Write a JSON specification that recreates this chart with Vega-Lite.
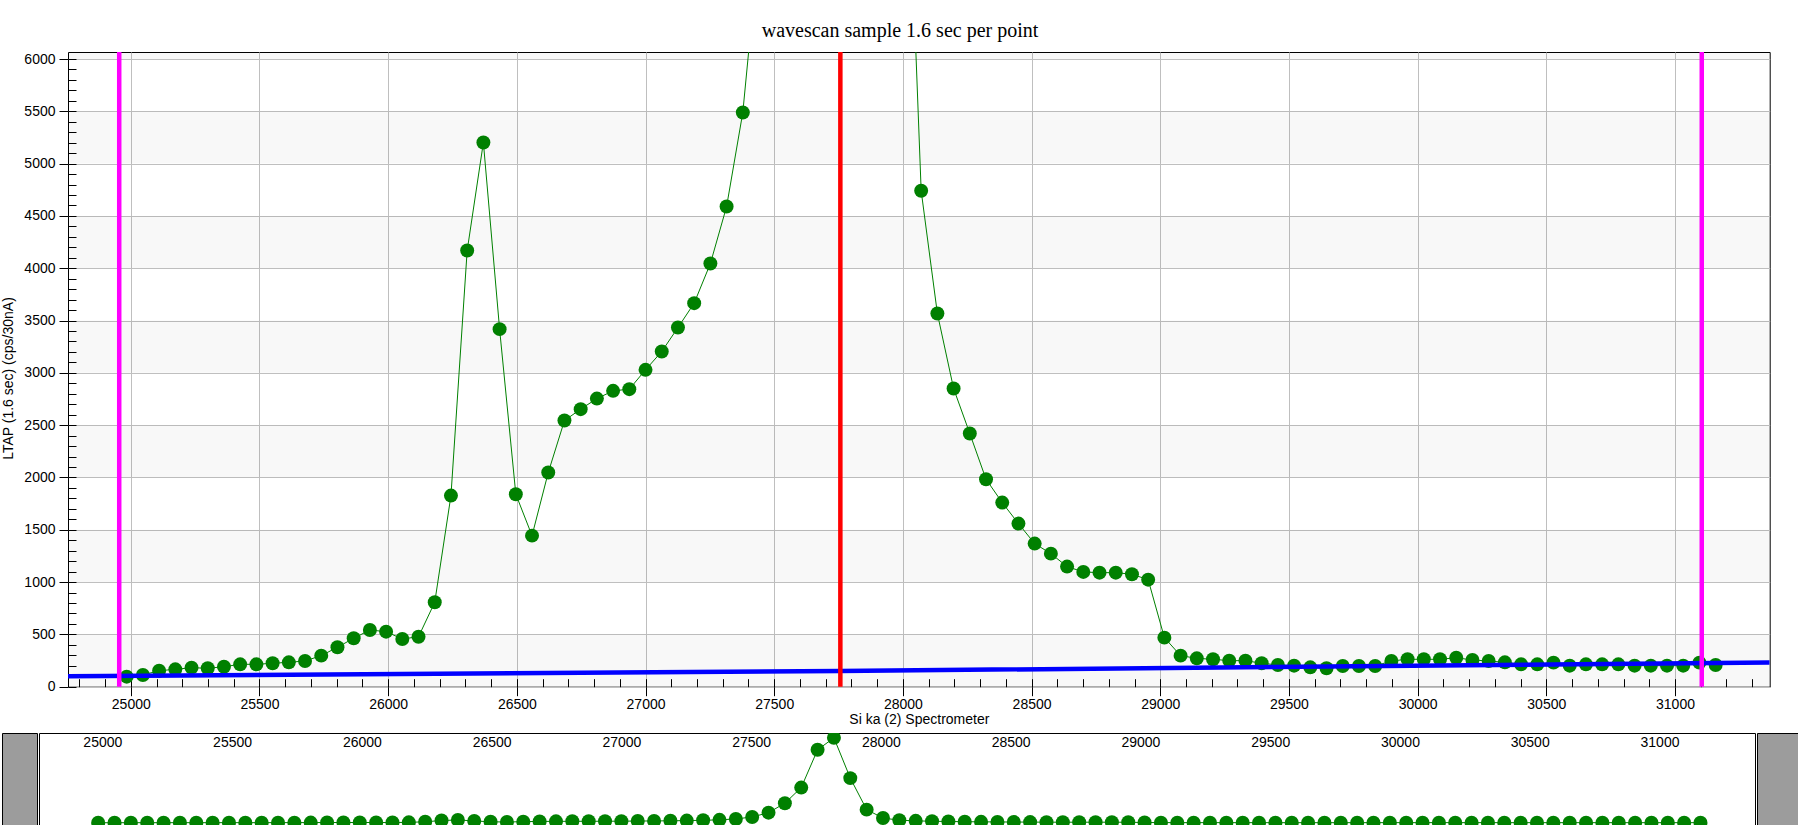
{
  "$schema": "https://vega.github.io/schema/vega-lite/v6.json",
  "padding": {"top": 21, "left": 0, "right": 0, "bottom": 0},
  "title": {"text": "wavescan sample 1.6 sec per point", "font": "Liberation Serif", "fontSize": 20, "fontWeight": "normal", "color": "black", "anchor": "middle", "offset": 8},
  "spacing": 5,
  "datasets": {
    "scan": [
      {"pos": 24984, "cps": 96}, {"pos": 25047, "cps": 112}, {"pos": 25110, "cps": 153}, {"pos": 25173, "cps": 166},
      {"pos": 25236, "cps": 182}, {"pos": 25299, "cps": 176}, {"pos": 25362, "cps": 191}, {"pos": 25425, "cps": 214},
      {"pos": 25488, "cps": 214}, {"pos": 25551, "cps": 224}, {"pos": 25614, "cps": 233}, {"pos": 25677, "cps": 246},
      {"pos": 25740, "cps": 297}, {"pos": 25803, "cps": 377}, {"pos": 25866, "cps": 463}, {"pos": 25929, "cps": 542},
      {"pos": 25992, "cps": 526}, {"pos": 26055, "cps": 456}, {"pos": 26118, "cps": 478}, {"pos": 26181, "cps": 807},
      {"pos": 26244, "cps": 1827}, {"pos": 26307, "cps": 4169}, {"pos": 26370, "cps": 5202}, {"pos": 26433, "cps": 3418},
      {"pos": 26496, "cps": 1840}, {"pos": 26559, "cps": 1444}, {"pos": 26622, "cps": 2047}, {"pos": 26685, "cps": 2544},
      {"pos": 26748, "cps": 2653}, {"pos": 26811, "cps": 2754}, {"pos": 26874, "cps": 2828}, {"pos": 26937, "cps": 2844},
      {"pos": 27000, "cps": 3029}, {"pos": 27063, "cps": 3204}, {"pos": 27126, "cps": 3433}, {"pos": 27189, "cps": 3666},
      {"pos": 27252, "cps": 4045}, {"pos": 27315, "cps": 4590}, {"pos": 27378, "cps": 5489}, {"pos": 27441, "cps": 7100},
      {"pos": 27504, "cps": 10700}, {"pos": 27567, "cps": 18700}, {"pos": 27630, "cps": 36200}, {"pos": 27693, "cps": 65100},
      {"pos": 27756, "cps": 135000}, {"pos": 27819, "cps": 157000}, {"pos": 27882, "cps": 82600}, {"pos": 27945, "cps": 24300},
      {"pos": 28008, "cps": 8800}, {"pos": 28071, "cps": 4741}, {"pos": 28134, "cps": 3567}, {"pos": 28197, "cps": 2850},
      {"pos": 28260, "cps": 2420}, {"pos": 28323, "cps": 1983}, {"pos": 28386, "cps": 1760}, {"pos": 28449, "cps": 1559},
      {"pos": 28512, "cps": 1368}, {"pos": 28575, "cps": 1272}, {"pos": 28638, "cps": 1148}, {"pos": 28701, "cps": 1097},
      {"pos": 28764, "cps": 1090}, {"pos": 28827, "cps": 1090}, {"pos": 28890, "cps": 1075}, {"pos": 28953, "cps": 1023},
      {"pos": 29016, "cps": 469}, {"pos": 29079, "cps": 297}, {"pos": 29142, "cps": 271}, {"pos": 29205, "cps": 262},
      {"pos": 29268, "cps": 249}, {"pos": 29331, "cps": 249}, {"pos": 29394, "cps": 224}, {"pos": 29457, "cps": 208},
      {"pos": 29520, "cps": 201}, {"pos": 29583, "cps": 185}, {"pos": 29646, "cps": 176}, {"pos": 29709, "cps": 198},
      {"pos": 29772, "cps": 198}, {"pos": 29835, "cps": 198}, {"pos": 29898, "cps": 246}, {"pos": 29961, "cps": 262},
      {"pos": 30024, "cps": 262}, {"pos": 30087, "cps": 262}, {"pos": 30150, "cps": 277}, {"pos": 30213, "cps": 255},
      {"pos": 30276, "cps": 246}, {"pos": 30339, "cps": 233}, {"pos": 30402, "cps": 214}, {"pos": 30465, "cps": 214},
      {"pos": 30528, "cps": 230}, {"pos": 30591, "cps": 201}, {"pos": 30654, "cps": 214}, {"pos": 30717, "cps": 214},
      {"pos": 30780, "cps": 214}, {"pos": 30843, "cps": 201}, {"pos": 30906, "cps": 201}, {"pos": 30969, "cps": 201},
      {"pos": 31032, "cps": 201}, {"pos": 31095, "cps": 230}, {"pos": 31158, "cps": 208}
    ],
    "bands": [
      {"lo": 0, "hi": 500}, {"lo": 1000, "hi": 1500}, {"lo": 2000, "hi": 2500}, {"lo": 3000, "hi": 3500},
      {"lo": 4000, "hi": 4500}, {"lo": 5000, "hi": 5500}, {"lo": 6000, "hi": 6067}
    ],
    "bg": [
      {"pos": 24756, "cps": 100}, {"pos": 27757, "cps": 150}, {"pos": 31368, "cps": 232}
    ],
    "vlines": [
      {"pos": 24955, "kind": "off-peak"}, {"pos": 27757, "kind": "peak"}, {"pos": 31104, "kind": "off-peak"}
    ]
  },
  "vconcat": [
    {
      "spacing": -3,
      "hconcat": [
        {
          "width": 1, "height": 634.7,
          "data": {"values": []},
          "mark": "point",
          "view": {"stroke": null, "fill": null}
        },
        {
          "width": 1701.7,
          "height": 634.7,
          "layer": [
            {
              "data": {"name": "bands"},
              "mark": {"type": "rect", "color": "black", "opacity": 0.027},
              "encoding": {
                "y": {"field": "lo", "type": "quantitative", "scale": {"domain": [0, 6067], "nice": false, "zero": false}, "axis": null},
                "y2": {"field": "hi"}
              }
            },
            {
              "data": {"name": "scan"},
              "mark": {"type": "line", "color": "#008000", "strokeWidth": 1, "clip": true},
              "encoding": {
                "x": {"field": "pos", "type": "quantitative", "scale": {"domain": [24756, 31368], "nice": false, "zero": false},
                      "axis": {"orient": "bottom", "tickCount": 66, "labels": false, "grid": false, "domain": false, "ticks": true, "tickSize": -8, "title": null}},
                "y": {"field": "cps", "type": "quantitative", "scale": {"domain": [0, 6067], "nice": false, "zero": false},
                      "axis": {"orient": "left", "tickCount": 60, "labels": false, "grid": false, "domain": false, "ticks": true, "tickSize": -8, "title": null}}
              }
            },
            {
              "data": {"name": "scan"},
              "mark": {"type": "circle", "color": "#008000", "size": 195, "opacity": 1, "clip": true},
              "encoding": {
                "x": {"field": "pos", "type": "quantitative",
                      "axis": {"orient": "bottom", "values": [25000, 25500, 26000, 26500, 27000, 27500, 28000, 28500, 29000, 29500, 30000, 30500, 31000],
                               "format": "d", "grid": true, "tickSize": 9, "labelPadding": 2, "title": "Si ka (2) Spectrometer", "titlePadding": 0.5}},
                "y": {"field": "cps", "type": "quantitative",
                      "axis": {"orient": "left", "values": [0, 500, 1000, 1500, 2000, 2500, 3000, 3500, 4000, 4500, 5000, 5500, 6000],
                               "format": "d", "grid": true, "tickSize": 9, "labelPadding": 4, "title": "LTAP (1.6 sec) (cps/30nA)",
                               "titleAngle": -90, "titleX": -56, "titleY": 326, "titleBaseline": "alphabetic", "titleAlign": "center"}}
              }
            },
            {
              "data": {"name": "bg"},
              "mark": {"type": "line", "color": "#0000ff", "strokeWidth": 4.5, "clip": true},
              "encoding": {
                "x": {"field": "pos", "type": "quantitative", "axis": null},
                "y": {"field": "cps", "type": "quantitative", "axis": null}
              }
            },
            {
              "data": {"name": "vlines"},
              "mark": {"type": "rule", "strokeWidth": 4.5},
              "encoding": {
                "x": {"field": "pos", "type": "quantitative", "axis": null},
                "color": {"field": "kind", "type": "nominal", "scale": {"domain": ["off-peak", "peak"], "range": ["#ff00ff", "#ff0000"]}, "legend": null}
              }
            }
          ],
          "resolve": {"axis": {"x": "independent", "y": "independent"}}
        }
      ]
    },
    {
      "spacing": 0,
      "hconcat": [
        {
          "width": 35, "height": 92,
          "data": {"values": []},
          "mark": "point",
          "view": {"fill": "#9c9c9c", "stroke": "black"}
        },
        {
          "width": 1716, "height": 92,
          "data": {"name": "scan"},
          "layer": [
            {
              "mark": {"type": "line", "color": "#008000", "strokeWidth": 1, "clip": true},
              "encoding": {
                "x": {"field": "pos", "type": "quantitative", "scale": {"domain": [24756, 31368], "nice": false, "zero": false},
                      "axis": {"orient": "top", "values": [25000, 25500, 26000, 26500, 27000, 27500, 28000, 28500, 29000, 29500, 30000, 30500, 31000],
                               "format": "d", "ticks": false, "grid": false, "domain": false, "labelPadding": -2, "labelBaseline": "top", "title": null}},
                "y": {"field": "cps", "type": "quantitative", "scale": {"domain": [-4100, 166000], "nice": false, "zero": false}, "axis": null}
              }
            },
            {
              "mark": {"type": "circle", "color": "#008000", "size": 195, "opacity": 1, "clip": true},
              "encoding": {
                "x": {"field": "pos", "type": "quantitative"},
                "y": {"field": "cps", "type": "quantitative"}
              }
            }
          ]
        },
        {
          "width": 42, "height": 92,
          "data": {"values": []},
          "mark": "point",
          "view": {"fill": "#9c9c9c", "stroke": "black"}
        }
      ]
    }
  ],
  "config": {
    "font": "Liberation Sans",
    "view": {"stroke": "black", "strokeWidth": 1},
    "axis": {
      "labelFont": "Liberation Sans", "labelFontSize": 14, "labelColor": "black",
      "titleFont": "Liberation Sans", "titleFontSize": 14, "titleFontWeight": "normal", "titleColor": "black",
      "tickColor": "black", "gridColor": "#bfbfbf", "gridOpacity": 1, "domain": false,
      "labelFlush": false, "labelOverlap": false, "labelBound": false
    }
  }
}
